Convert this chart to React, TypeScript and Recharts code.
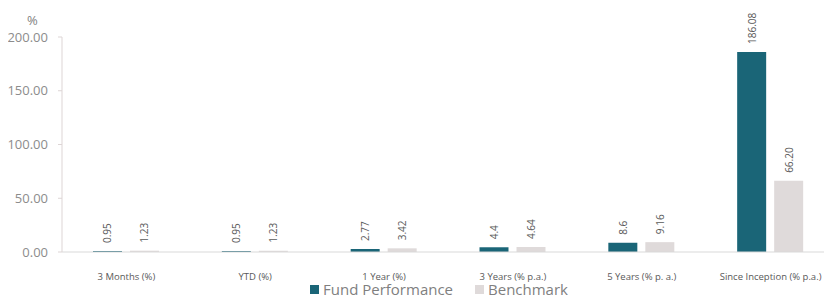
import { BarChart, Bar, XAxis, YAxis, Legend, LabelList } from "recharts";

const categories = [
  "3 Months (%)",
  "YTD (%)",
  "1 Year (%)",
  "3 Years (% p.a.)",
  "5 Years (% p. a.)",
  "Since Inception (% p.a.)",
];
const fundValues = [0.95, 0.95, 2.77, 4.4, 8.6, 186.08];
const benchValues = [1.23, 1.23, 3.42, 4.64, 9.16, 66.2];
const fundLabels = ["0.95", "0.95", "2.77", "4.4", "8.6", "186.08"];
const benchLabels = ["1.23", "1.23", "3.42", "4.64", "9.16", "66.20"];
const yTicks = [0, 50, 100, 150, 200];

const FUND = "#1a6577";
const BENCH = "#dfdada";
const FONT = "'Open Sans', 'Noto Sans', sans-serif";

const data = categories.map((name, i) => ({
  name,
  fund: fundValues[i],
  bench: benchValues[i],
  fundLabel: fundLabels[i],
  benchLabel: benchLabels[i],
}));

function RotatedLabel(props: any) {
  const { x, y, width, value } = props;
  const cx = Number(x) + Number(width) / 2;
  const cy = Number(y) - 8;
  return (
    <text
      x={cx}
      y={cy}
      transform={`rotate(-90, ${cx}, ${cy})`}
      textAnchor="start"
      dominantBaseline="central"
      fontSize={10}
      fill="#595959"
      fontFamily={FONT}
    >
      {value}
    </text>
  );
}

function LegendContent() {
  const items = [
    { label: "Fund Performance", color: FUND },
    { label: "Benchmark", color: BENCH },
  ];
  return (
    <div style={{ display: "flex", alignItems: "center", fontFamily: FONT }}>
      {items.map((it) => (
        <div
          key={it.label}
          style={{ display: "flex", alignItems: "center", marginRight: 22 }}
        >
          <span
            style={{
              width: 9,
              height: 9,
              background: it.color,
              display: "inline-block",
              marginRight: 4,
            }}
          />
          <span style={{ fontSize: 15, color: "#7f7f7f", lineHeight: "15px" }}>
            {it.label}
          </span>
        </div>
      ))}
    </div>
  );
}

export default function App() {
  return (
    <div
      style={{
        position: "relative",
        width: 824,
        height: 297,
        overflow: "hidden",
        boxSizing: "border-box",
        padding: "8px 0 0 8px",
      }}
    >
      <style>{"body { margin: 0; }"}</style>
      <div
        style={{
          position: "absolute",
          left: 27,
          top: 11,
          fontFamily: FONT,
          fontSize: 13,
          color: "#7f7f7f",
        }}
      >
        %
      </div>
      <BarChart
        width={816}
        height={289}
        data={data}
        margin={{ top: 29, right: -11, left: 0, bottom: 0 }}
        barSize={29}
        barGap={8}
      >
        <XAxis
          dataKey="name"
          axisLine={{ stroke: "#d9d9d9" }}
          tickLine={false}
          tickSize={0}
          tickMargin={21}
          height={30}
          interval={0}
          tick={{ fontSize: 9.5, fill: "#595959", fontFamily: FONT }}
        />
        <YAxis
          domain={[0, 200]}
          ticks={yTicks}
          width={54}
          tickSize={4}
          tickMargin={10}
          axisLine={{ stroke: "#ddd5d5" }}
          tickLine={{ stroke: "#ddd5d5" }}
          tickFormatter={(v: number) => v.toFixed(2)}
          tick={{ fontSize: 13, fill: "#8c8c8c", fontFamily: FONT }}
        />
        <Legend
          verticalAlign="bottom"
          content={<LegendContent />}
          wrapperStyle={{ left: 302, top: 274, width: 400, height: 15 }}
        />
        <Bar dataKey="fund" name="Fund Performance" fill={FUND} isAnimationActive={false}>
          <LabelList dataKey="fundLabel" content={<RotatedLabel />} />
        </Bar>
        <Bar dataKey="bench" name="Benchmark" fill={BENCH} isAnimationActive={false}>
          <LabelList dataKey="benchLabel" content={<RotatedLabel />} />
        </Bar>
      </BarChart>
    </div>
  );
}
